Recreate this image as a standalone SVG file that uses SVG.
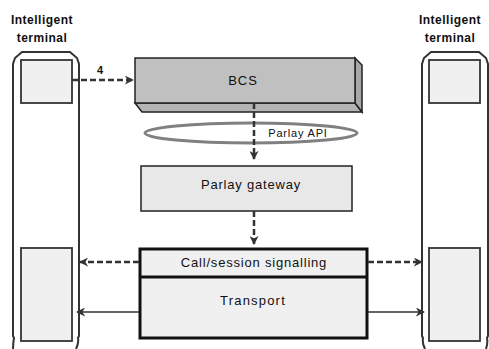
<svg xmlns="http://www.w3.org/2000/svg" width="489" height="349" viewBox="0 0 489 349">
<defs>
<style>
.t{font-family:"Liberation Sans",Arial,sans-serif;fill:#111;text-anchor:middle}
.lbl{font-size:12px;font-weight:bold;letter-spacing:0.5px}
.outer{fill:none;stroke:#333;stroke-width:2}
.inner{fill:#f0f0f0;stroke:#333;stroke-width:1.8}
.dash{fill:none;stroke:#333;stroke-width:2.5;stroke-dasharray:6,3}
.solid{fill:none;stroke:#333;stroke-width:1.3}
</style>
<marker id="ah" viewBox="0 0 10 10" refX="9" refY="5" markerWidth="9" markerHeight="9" markerUnits="userSpaceOnUse" orient="auto">
<path d="M0,0 L10,5 L0,10 L3,5 Z" fill="#333"/>
</marker>
</defs>
<rect width="489" height="349" fill="#ffffff"/>

<g id="terminal-left">
<text class="t lbl" x="42" y="24">Intelligent</text>
<text class="t lbl" x="42" y="42">terminal</text>
<path class="outer" d="M13,349 Q13,343 14,338 L13,336 L13,64 L15,58 L22,52 L70,52 L77,58 L79,64 L79,336 L78,338 Q79,343 76,349"/>
<rect class="inner" x="21" y="60" width="51" height="43"/>
<rect class="inner" x="21" y="248" width="51" height="93"/>
</g>

<g id="terminal-right">
<text class="t lbl" x="450" y="24">Intelligent</text>
<text class="t lbl" x="450" y="42">terminal</text>
<path class="outer" d="M425,349 Q422,343 423,338 L422,336 L422,64 L424,58 L431,52 L479,52 L486,58 L488,64 L488,336 L487,338 Q488,343 486,349"/>
<rect class="inner" x="429" y="60" width="51" height="43"/>
<rect class="inner" x="429" y="248" width="51" height="93"/>
</g>

<g id="bcs">
<path d="M135,103 L142,112 L362,112 L355,103 Z" fill="#b4b4b4" stroke="#222" stroke-width="1.5"/>
<path d="M355,58 L362,65 L362,112 L355,103 Z" fill="#a8a8a8" stroke="#222" stroke-width="1.5"/>
<rect x="135" y="58" width="220" height="45" fill="#c0c0c0" stroke="#222" stroke-width="1.5"/>
<text class="t" x="243" y="85" font-size="13" letter-spacing="1">BCS</text>
</g>

<g id="parlay-api">
<ellipse cx="251" cy="133" rx="106" ry="10" fill="#ffffff" stroke="#808080" stroke-width="3"/>
<text class="t" x="298" y="137" font-size="11" letter-spacing="0.8">Parlay API</text>
</g>

<g id="parlay-gateway">
<rect x="141" y="166" width="211" height="45" fill="#e8e8e8" stroke="#222" stroke-width="1.5"/>
<text class="t" x="251" y="189" font-size="13" letter-spacing="0.8">Parlay gateway</text>
</g>

<g id="network">
<rect x="140" y="249" width="227" height="89" fill="#f0f0f0" stroke="#111" stroke-width="3"/>
<line x1="140" y1="277" x2="367" y2="277" stroke="#111" stroke-width="3"/>
<text class="t" x="254" y="267" font-size="13" letter-spacing="0.8">Call/session signalling</text>
<text class="t" x="253" y="305" font-size="13" letter-spacing="1.2">Transport</text>
</g>

<g id="connectors">
<line class="dash" x1="72" y1="80" x2="133" y2="80" marker-end="url(#ah)"/>
<text class="t" x="100" y="74" font-size="11" font-weight="bold">4</text>
<line class="dash" x1="254" y1="103" x2="254" y2="159" marker-end="url(#ah)"/>
<line class="dash" x1="254" y1="211" x2="254" y2="244" marker-end="url(#ah)"/>
<line class="dash" x1="139" y1="262" x2="80" y2="262" marker-end="url(#ah)"/>
<line class="dash" x1="368" y1="262" x2="422" y2="262" marker-end="url(#ah)"/>
<line class="solid" x1="139" y1="312" x2="77" y2="312" marker-end="url(#ah)"/>
<line class="solid" x1="368" y1="312" x2="424" y2="312" marker-end="url(#ah)"/>
</g>
</svg>
